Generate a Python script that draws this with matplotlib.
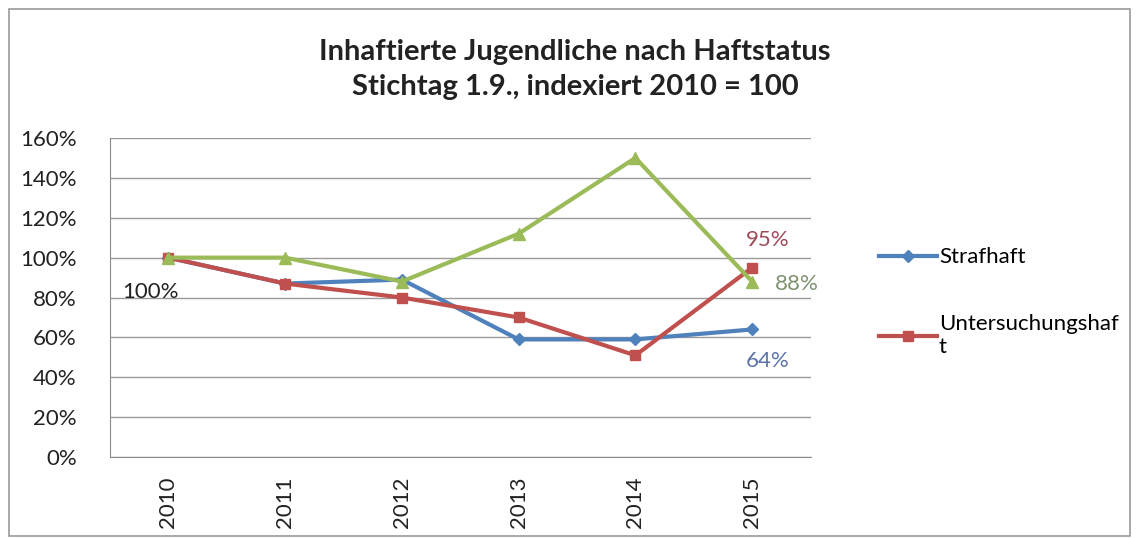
import matplotlib
matplotlib.use('Agg')
import matplotlib.pyplot as plt
import matplotlib.patches as mpatches
from matplotlib.ticker import FuncFormatter

plt.rcParams['font.family'] = ['Lato', 'DejaVu Sans']

# Data (index, 2010 = 100)
years = ['2010', '2011', '2012', '2013', '2014', '2015']
strafhaft = [100, 87, 89, 59, 59, 64]
untersuchungshaft = [100, 87, 80, 70, 51, 95]
gesamt = [100, 100, 88, 112, 150, 88]
yticks = [0, 20, 40, 60, 80, 100, 120, 140, 160]

blue = '#4F81BD'
red = '#C0504D'
green = '#9BBB59'

fig = plt.figure(figsize=(11.39, 5.39), dpi=100)
ax = fig.add_axes([0.0966, 0.152, 0.615, 0.592])

# Outer chart frame
fig.patches.append(mpatches.Rectangle((0.008, 0.006), 0.984, 0.978, transform=fig.transFigure,
                                      fill=False, edgecolor='#9a9a9a', linewidth=1.2))

x = list(range(len(years)))
ax.plot(x, strafhaft, color=blue, linewidth=3, marker='D', markersize=6,
        label='Strafhaft', zorder=3)
ax.plot(x, untersuchungshaft, color=red, linewidth=3, marker='s', markersize=7.5,
        label='Untersuchungshaf\nt', zorder=4)
ax.plot(x, gesamt, color=green, linewidth=3, marker='^', markersize=8, zorder=5)

ax.set_xlim(-0.5, len(years) - 0.5)
ax.set_ylim(0, 160)
ax.set_yticks(yticks)
ax.yaxis.set_major_formatter(FuncFormatter(lambda v, p: f'{v:.0f}%'))
ax.set_xticks(x)
ax.set_xticklabels(years, rotation=90)
ax.tick_params(axis='both', length=0, labelsize=16, colors='#222222')
ax.tick_params(axis='y', pad=24)
ax.tick_params(axis='x', pad=14)

ax.grid(axis='y', color='#9a9a9a', linewidth=1.0)
ax.set_axisbelow(True)
for s in ['top', 'right']:
    ax.spines[s].set_visible(False)
ax.spines['left'].set_color('#8c8c8c')
ax.spines['bottom'].set_color('#8c8c8c')

# Data labels
ax.text(-0.15, 83, f'{strafhaft[0]}%', fontsize=16, color='#222222', ha='center', va='center')
ax.text(5.13, 109, f'{untersuchungshaft[-1]}%', fontsize=16, color='#9E4A58', ha='center', va='center')
ax.text(5.38, 87, f'{gesamt[-1]}%', fontsize=16, color='#7F9270', ha='center', va='center')
ax.text(5.13, 48, f'{strafhaft[-1]}%', fontsize=16, color='#5B74A8', ha='center', va='center')

fig.suptitle('Inhaftierte Jugendliche nach Haftstatus\nStichtag 1.9., indexiert 2010 = 100',
             x=0.505, y=0.928, fontsize=21, fontweight='bold', color='#222222', linespacing=1.45)

ax.legend(loc='upper left', bbox_to_anchor=(1.085, 0.685), frameon=False, fontsize=16,
          handlelength=2.6, handletextpad=0.1, labelspacing=2.1, borderaxespad=0)

fig.savefig('out.png', dpi=100)
